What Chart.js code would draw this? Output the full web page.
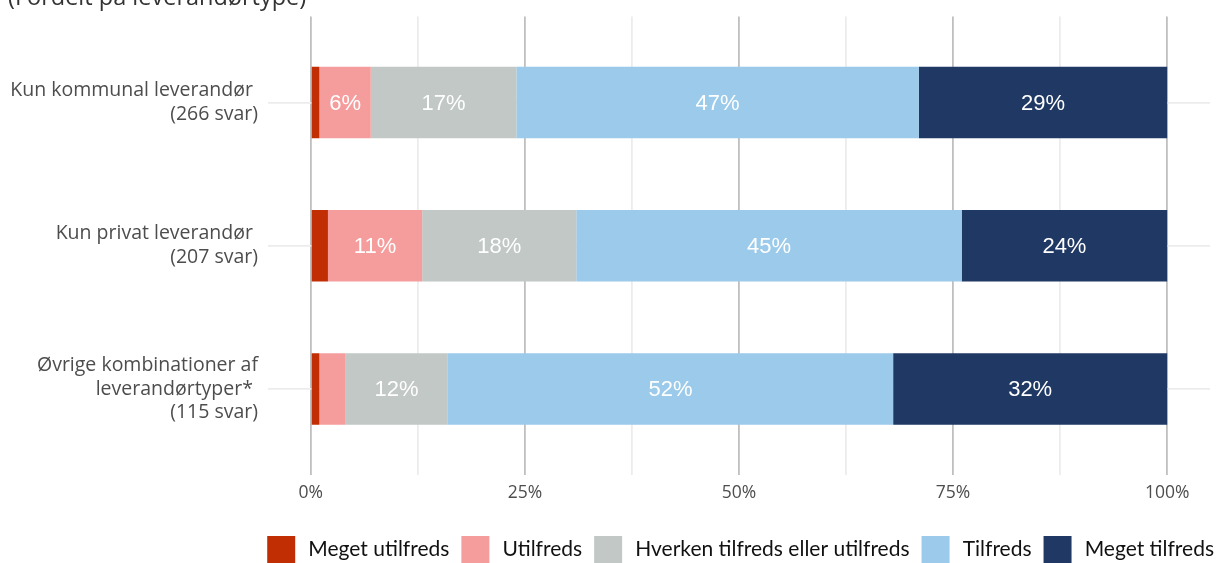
<!DOCTYPE html>
<html>
<head>
<meta charset="utf-8">
<script src="https://cdn.jsdelivr.net/npm/chart.js@4/dist/chart.umd.min.js"></script>
<style>
  html, body { margin: 0; padding: 0; background: #fff; overflow: hidden; }
  #wrap { position: absolute; left: 0; top: -13px; width: 1217px; height: 586px; }
</style>
</head>
<body>
<div id="wrap"><canvas id="tilfredshed"></canvas></div>
<script>
var titleText = '(Fordelt på leverandørtype)';

var categories = [
  ['Kun kommunal leverandør ', '(266 svar)'],
  ['Kun privat leverandør ', '(207 svar)'],
  ['Øvrige kombinationer af', 'leverandørtyper* ', '(115 svar)']
];

var seriesNames = ['Meget utilfreds', 'Utilfreds', 'Hverken tilfreds eller utilfreds', 'Tilfreds', 'Meget tilfreds'];
var seriesColors = ['#C12E04', '#F59D9C', '#C1C8C6', '#9BCAEA', '#1F3864'];

// procent pr. kategori (rækkefølge som categories)
var meget_utilfreds = [1, 2, 1];
var utilfreds = [6, 11, 3];
var hverken = [17, 18, 12];
var tilfreds = [47, 45, 52];
var meget_tilfreds = [29, 24, 32];

var xTicks = [0, 12.5, 25, 37.5, 50, 62.5, 75, 87.5, 100];
var xLabels = ['0%', '', '25%', '', '50%', '', '75%', '', '100%'];

function buildDatasets(){
  var values = [meget_utilfreds, utilfreds, hverken, tilfreds, meget_tilfreds];
  var datasets = [];
  for (var i = 0; i < seriesNames.length; i++) {
    var points = [];
    for (var j = 0; j < categories.length; j++) {
      points.push({x: values[i][j], y: j + 1});
    }
    datasets.push({
      label: seriesNames[i],
      data: points,
      backgroundColor: seriesColors[i],
      borderWidth: 0,
      barPercentage: 1,
      categoryPercentage: 0.5
    });
  }
  return datasets;
}

// tal inde i søjlerne, kun for felter på 5% eller mere
var barLabels = {
  id: 'barLabels',
  afterDatasetsDraw: function(chart){
    var ctx = chart.ctx;
    ctx.save();
    ctx.font = '22px "Liberation Sans", Arial, sans-serif';
    ctx.fillStyle = '#ffffff';
    ctx.textAlign = 'center';
    ctx.textBaseline = 'middle';
    chart.data.datasets.forEach(function(ds, i){
      var meta = chart.getDatasetMeta(i);
      meta.data.forEach(function(bar, j){
        var v = ds.data[j].x;
        if (v < 5) return;
        var c = bar.getCenterPoint();
        ctx.fillText(v + '%', c.x, c.y + 1);
      });
    });
    ctx.restore();
  }
};

// legenden skubbes helt ud til højre kant
var legendShift = {
  id: 'legendShift',
  afterLayout: function(chart){
    chart.legend.left += 16;
    chart.legend.right += 16;
  }
};

function printChart(){
  var ctx = document.getElementById('tilfredshed');
  new Chart(ctx, {
    type: 'bar',
    data: { datasets: buildDatasets() },
    plugins: [barLabels, legendShift],
    options: {
      indexAxis: 'y',
      responsive: true,
      maintainAspectRatio: false,
      animation: false,
      layout: { padding: { left: 8, right: 7, top: 0, bottom: 0 } },
      scales: {
        x: {
          type: 'linear',
          stacked: true,
          min: -5,
          max: 105,
          border: { display: false },
          afterBuildTicks: function(scale){
            scale.ticks = xTicks.map(function(v){ return {value: v}; });
          },
          afterFit: function(scale){
            scale.height = 49;
          },
          grid: {
            drawTicks: false,
            lineWidth: 1.8,
            color: function(c){
              return (c.tick && c.tick.value % 25 === 0) ? '#bfbfbf' : '#ececec';
            }
          },
          ticks: {
            padding: 8,
            color: '#4d4d4d',
            font: { family: '"Open Sans", sans-serif', size: 17.5 },
            callback: function(v, i){ return xLabels[i]; }
          }
        },
        y: {
          type: 'linear',
          stacked: true,
          reverse: true,
          offset: false,
          min: 0.4,
          max: 3.6,
          border: { display: false },
          afterBuildTicks: function(scale){
            scale.ticks = categories.map(function(c, i){ return {value: i + 1}; });
          },
          afterFit: function(scale){
            scale.width = 260;
            scale.paddingTop = 0;
            scale.paddingBottom = 0;
          },
          grid: {
            drawTicks: false,
            offset: false,
            lineWidth: 1.8,
            color: '#ececec'
          },
          ticks: {
            padding: 10,
            color: '#4d4d4d',
            font: { family: '"Open Sans", sans-serif', size: 19.5, lineHeight: 1.22 },
            callback: function(v){ return categories[v - 1]; }
          }
        }
      },
      plugins: {
        title: {
          display: true,
          text: titleText,
          align: 'start',
          color: '#333333',
          padding: { top: 0, bottom: 6 },
          font: { family: '"Open Sans", sans-serif', size: 23.5, weight: 'normal', lineHeight: 1 }
        },
        legend: {
          position: 'bottom',
          align: 'end',
          labels: {
            boxWidth: 28,
            boxHeight: 27,
            padding: 12,
            color: '#111111',
            font: { family: 'Lato, sans-serif', size: 21 },
            generateLabels: function(chart){
              var items = Chart.defaults.plugins.legend.labels.generateLabels(chart);
              items.forEach(function(it){ it.text = '\u2009' + it.text; });
              return items;
            }
          }
        },
        tooltip: { enabled: false }
      }
    }
  });
}

function init(){
  printChart();
}

init();
</script>
</body>
</html>
